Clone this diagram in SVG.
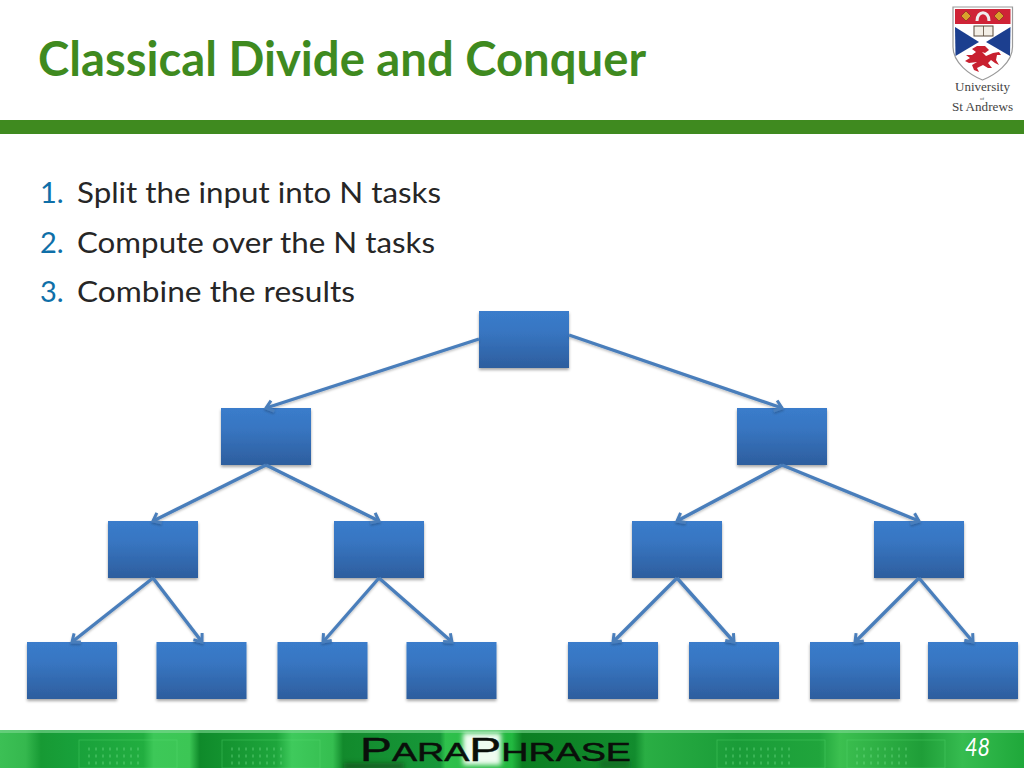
<svg xmlns="http://www.w3.org/2000/svg" width="1024" height="768" viewBox="0 0 1024 768">
<style>
.t{font-family:"Lato","Open Sans",sans-serif}
.title{font-size:47px;font-weight:700;fill:#3f8a1f}
.li{font-size:29px;fill:#262626}
.num{font-size:29px;fill:#0f6fa8}
.box{fill:url(#bg);filter:url(#sh)}
.c{fill:none;stroke:#4a7ebb;stroke-width:3.400;marker-end:url(#ah)}
.crest{font-family:"Liberation Serif",serif;fill:#444}
.grid{fill:none;stroke:#5fe07a;stroke-width:.8;opacity:.4}
.dig{stroke:#7fe896;stroke-width:3;stroke-dasharray:2 5;opacity:.3;fill:none}
</style>
<defs>
<linearGradient id="bg" x1="0" y1="0" x2="0" y2="1"><stop offset="0" stop-color="#3a7ccb"/><stop offset=".35" stop-color="#3876c2"/><stop offset="1" stop-color="#2d5e9e"/></linearGradient>
<filter id="sh" x="-10%" y="-10%" width="120%" height="125%"><feDropShadow dx="0" dy="2" stdDeviation="1.800" flood-color="#000" flood-opacity=".35"/></filter>
<filter id="ls" filterUnits="userSpaceOnUse" x="0" y="300" width="1024" height="400"><feDropShadow dx="0" dy="1.500" stdDeviation="1" flood-color="#000" flood-opacity=".25"/></filter>
<filter id="b2"><feGaussianBlur stdDeviation="2.500"/></filter>
<filter id="b1"><feGaussianBlur stdDeviation=".6"/></filter>
<marker id="ah" markerUnits="userSpaceOnUse" markerWidth="20" markerHeight="20" refX="14" refY="10" orient="auto" viewBox="0 0 20 20"><path d="M7 4.500L14 10L7 15.500" fill="none" stroke="#4a7ebb" stroke-width="3"/></marker>
<linearGradient id="fg" x1="0" y1="0" x2="1" y2="0">
<stop offset="0" stop-color="#3cc055"/><stop offset=".025" stop-color="#35b84e"/><stop offset=".04" stop-color="#179a34"/><stop offset=".07" stop-color="#18a03a"/><stop offset=".14" stop-color="#22ae40"/><stop offset=".15" stop-color="#3dc858"/><stop offset=".185" stop-color="#3cc655"/><stop offset=".195" stop-color="#0f8a2a"/><stop offset=".27" stop-color="#1ea63c"/><stop offset=".285" stop-color="#3fca5c"/><stop offset=".325" stop-color="#35be50"/><stop offset=".335" stop-color="#128a2c"/><stop offset=".43" stop-color="#17983a"/><stop offset=".435" stop-color="#2fc04c"/><stop offset=".5" stop-color="#22b840"/><stop offset=".51" stop-color="#0c7f22"/><stop offset=".62" stop-color="#128c2e"/><stop offset=".63" stop-color="#2aae44"/><stop offset=".72" stop-color="#1a9c38"/><stop offset=".8" stop-color="#20a53c"/><stop offset=".82" stop-color="#3cc050"/><stop offset=".9" stop-color="#1f9e38"/><stop offset=".94" stop-color="#36bc50"/><stop offset="1" stop-color="#1fa83a"/>
</linearGradient>
</defs>
<rect width="1024" height="768" fill="#fff"/>
<rect x="0" y="120" width="1024" height="14" fill="#3f8a1f"/>
<text class="t title" x="38" y="76" textLength="608" lengthAdjust="spacingAndGlyphs">Classical Divide and Conquer</text>

<g id="crest">
<path d="M953 7H1012.500V47C1012.500 63 995 75 982.500 80C970 75 953 63 953 47Z" fill="#fff" stroke="#9a9a9a" stroke-width="1.200"/>
<rect x="955" y="9" width="55.500" height="15" fill="#cf2336"/>
<path d="M955 27L979 42L955.500 56Z" fill="#1c3f8f"/>
<path d="M1010.500 27L986 42L1010 56Z" fill="#1c3f8f"/>
<path d="M972 49L977 46L985 46L989 50L985 53L982 52L986 56L993 53L999 52L1001 55L997 55L996 60L999 65L995 63L991 60L988 63L992 68L988 68L983 65L977 68L979 72L974 70L972 65L977 62L969 63L965 61L970 58L966 55L972 55L976 52Z" fill="#c8202f"/>
<rect x="974" y="26" width="19" height="10" fill="#f3efe6" stroke="#5a4a3a" stroke-width="1"/>
<path d="M983.500 26V36" stroke="#5a4a3a" stroke-width=".8"/>
<path d="M966 11L971 16L966 21L961 16Z M999 11L1004 16L999 21L994 16Z" fill="#d9a02c" stroke="#7a2020" stroke-width=".6"/>
<path d="M977 21C977 10 989 10 989 21" fill="none" stroke="#eee" stroke-width="3"/>
<text class="crest" x="955" y="91" font-size="12" textLength="55" lengthAdjust="spacingAndGlyphs">University</text>
<text class="crest" x="980" y="100" font-size="5">of</text>
<text class="crest" x="952" y="110.500" font-size="12" textLength="61" lengthAdjust="spacingAndGlyphs">St Andrews</text>
</g>

<g id="list">
<text class="t num" x="40" y="203">1.</text><text class="t li" x="77" y="203" textLength="364" lengthAdjust="spacingAndGlyphs">Split the input into N tasks</text>
<text class="t num" x="40" y="253">2.</text><text class="t li" x="77" y="253" textLength="358" lengthAdjust="spacingAndGlyphs">Compute over the N tasks</text>
<text class="t num" x="40" y="302">3.</text><text class="t li" x="77" y="302" textLength="278" lengthAdjust="spacingAndGlyphs">Combine the results</text>
</g>

<g id="n0"><rect class="box" x="479" y="311" width="90" height="57"/></g>
<g id="n1"><rect class="box" x="221" y="408" width="90" height="57"/></g>
<g id="n2"><rect class="box" x="737" y="408" width="90" height="57"/></g>
<g id="n3"><rect class="box" x="108" y="521" width="90" height="57"/></g>
<g id="n4"><rect class="box" x="334" y="521" width="90" height="57"/></g>
<g id="n5"><rect class="box" x="632" y="521" width="90" height="57"/></g>
<g id="n6"><rect class="box" x="874" y="521" width="90" height="57"/></g>
<g id="n7"><rect class="box" x="27" y="642" width="90" height="57"/></g>
<g id="n8"><rect class="box" x="156.500" y="642" width="90" height="57"/></g>
<g id="n9"><rect class="box" x="277.500" y="642" width="90" height="57"/></g>
<g id="n10"><rect class="box" x="406.500" y="642" width="90" height="57"/></g>
<g id="n11"><rect class="box" x="568" y="642" width="90" height="57"/></g>
<g id="n12"><rect class="box" x="689" y="642" width="90" height="57"/></g>
<g id="n13"><rect class="box" x="810" y="642" width="90" height="57"/></g>
<g id="n14"><rect class="box" x="928" y="642" width="90" height="57"/></g>

<g id="connectors" filter="url(#ls)">
<path class="c" d="M479 339L266 408"/><path class="c" d="M569 335L782 408"/>
<path class="c" d="M266 465L153 521"/><path class="c" d="M266 465L379 521"/>
<path class="c" d="M782 465L677 521"/><path class="c" d="M782 465L919 521"/>
<path class="c" d="M153 578L72 642"/><path class="c" d="M153 578L202 642"/>
<path class="c" d="M379 578L323 642"/><path class="c" d="M379 578L452 642"/>
<path class="c" d="M677 578L613 642"/><path class="c" d="M677 578L734 642"/>
<path class="c" d="M919 578L855 642"/><path class="c" d="M919 578L973 642"/>
</g>

<g id="footer">
<rect x="0" y="730" width="1024" height="38" fill="url(#fg)"/>
<rect x="0" y="730" width="1024" height="3" fill="#7fd892" opacity=".6"/>
<g filter="url(#b2)">
<rect x="344" y="763" width="60" height="6" fill="#0d3a14" opacity=".6"/>
<rect x="463" y="733" width="38" height="32" fill="#effdf1"/>
<rect x="600" y="760" width="30" height="8" fill="#0c5e1a" opacity=".6"/>
</g>
<rect class="grid" x="79" y="740" width="98" height="28"/>
<rect class="grid" x="222" y="740" width="98" height="28"/>
<rect class="grid" x="717" y="740" width="108" height="28"/>
<rect class="grid" x="847" y="740" width="98" height="28"/>
<g class="dig" filter="url(#b1)">
<path d="M88 749H139M88 756H139M88 763H139"/>
<path d="M231 749H282M231 756H282M231 763H282"/>
<path d="M725 749H790M725 756H790M725 763H790"/>
<path d="M856 749H907M856 756H907M856 763H907"/>
</g>
<text x="360" y="761" font-family="'Liberation Sans',sans-serif" fill="#0a0f0a" stroke="#0a0f0a" stroke-width=".5" textLength="271" lengthAdjust="spacingAndGlyphs" font-size="26"><tspan font-size="33">P</tspan>ARA<tspan font-size="33">P</tspan>HRASE</text>
<text x="965" y="756" font-family="Lato,sans-serif" font-style="italic" font-size="25" fill="#fff" textLength="25" lengthAdjust="spacingAndGlyphs">48</text>
</g>
</svg>
